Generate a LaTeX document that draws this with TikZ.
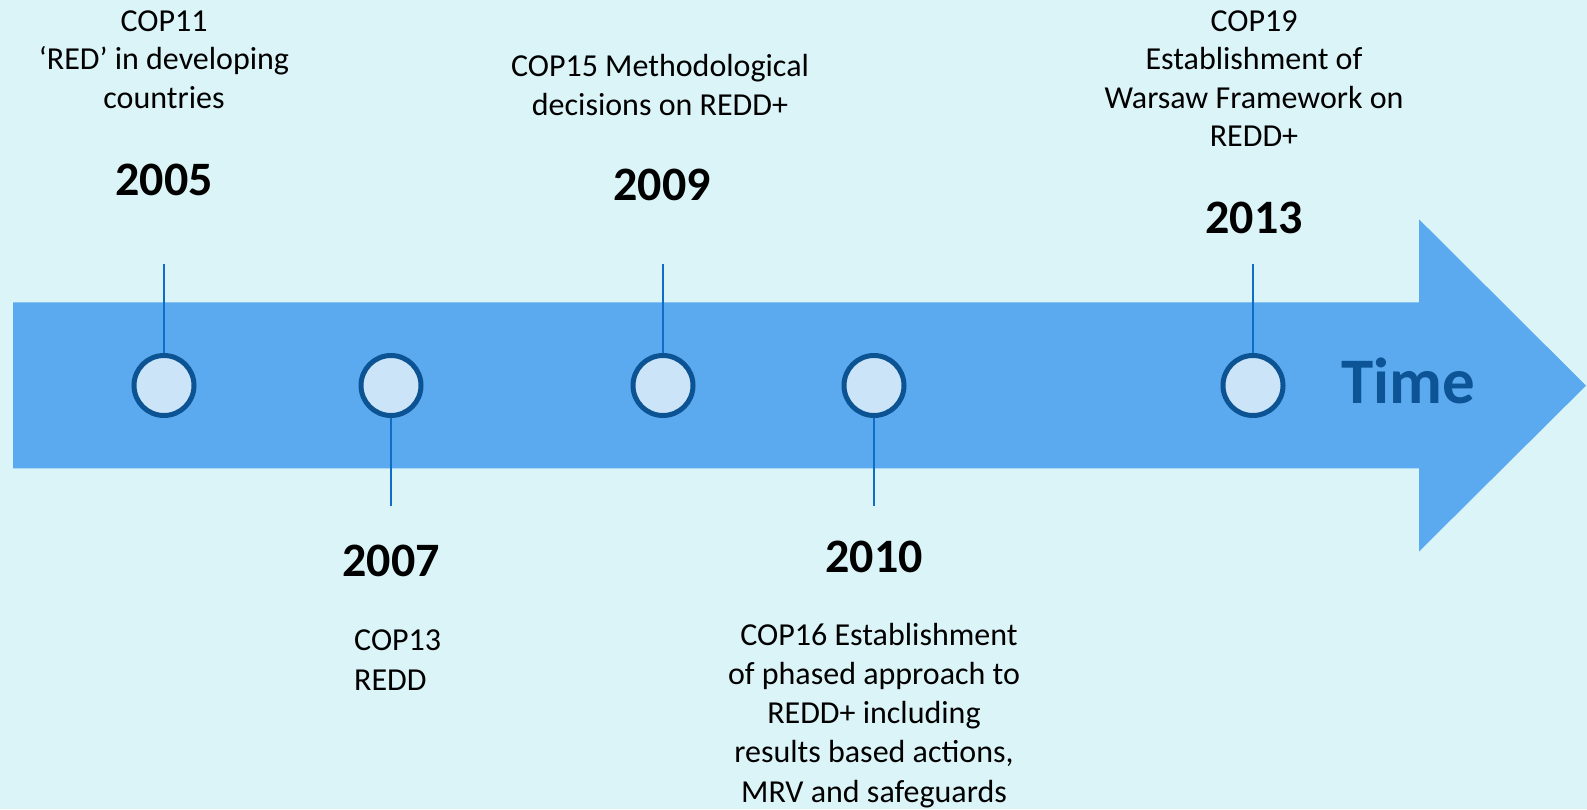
\documentclass[tikz,border=0pt]{standalone}
\usepackage{fontspec}
\setmainfont{Carlito}
\definecolor{bgc}{HTML}{DBF4F8}
\definecolor{arrowc}{HTML}{5BAAF0}
\definecolor{circfill}{HTML}{CCE4F8}
\definecolor{circline}{HTML}{0C5394}
\definecolor{stemc}{HTML}{0E6DC4}
\definecolor{timec}{HTML}{0D5496}
\tikzset{
  evt/.style={circle, draw=circline, fill=circfill, line width=5pt, minimum size=60pt, inner sep=0pt},
  stem/.style={draw=stemc, line width=2.2pt},
  desc/.style={anchor=base, inner sep=0pt, align=center, font=\fontsize{32}{38.5}\selectfont},
  yr/.style={anchor=base, inner sep=0pt, font=\fontsize{48}{56}\selectfont\bfseries},
}
\begin{document}
\begin{tikzpicture}[x=1pt,y=-1pt]
\fill[bgc] (0,0) rectangle (1587,809);
\useasboundingbox (0,0) rectangle (1587,809);
% arrow
\fill[arrowc] (13,302.3) -- (1419,302.3) -- (1419,219.3) -- (1586,385.6) -- (1419,551.5) -- (1419,468.3) -- (13,468.3) -- cycle;
% circles
\node[evt] (c1) at (164,385.5) {};
\node[evt] (c2) at (391,385.5) {};
\node[evt] (c3) at (663,385.5) {};
\node[evt] (c4) at (874,385.5) {};
\node[evt] (c5) at (1253,385.5) {};
% stems
\coordinate (s1) at (164,264);
\coordinate (s2) at (391,506);
\coordinate (s3) at (663,264);
\coordinate (s4) at (874,506);
\coordinate (s5) at (1253,264);
\draw[stem] (s1) -- (c1.north);
\draw[stem] (s2) -- (c2.south);
\draw[stem] (s3) -- (c3.north);
\draw[stem] (s4) -- (c4.south);
\draw[stem] (s5) -- (c5.north);
% texts (base anchor = baseline of the last line)
\node[desc] (d1) at (164,108) {COP11\\‘RED’ in developing\\countries};
\node[yr] (y1) at (164,195) {2005};
\node[desc, font=\fontsize{32}{39}\selectfont] (d3) at (660,115) {COP15 Methodological\\decisions on REDD+};
\node[yr] (y3) at (662,200) {2009};
\node[desc] (d5) at (1254,146.7) {COP19\\Establishment of\\Warsaw Framework on\\REDD+};
\node[yr] (y5) at (1254,233) {2013};
\node[yr] (y2) at (391,576) {2007};
\node[desc, anchor=base west, align=left, font=\fontsize{32}{40}\selectfont] (d2) at (354,690) {COP13\\REDD};
\node[yr] (y4) at (874,572) {2010};
\node[desc, font=\fontsize{32}{39.2}\selectfont] (d4) at (874,802) {\hspace*{10pt}COP16 Establishment\\of phased approach to\\REDD+ including\\results based actions,\\MRV and safeguards};
\node[anchor=base west, inner sep=0pt, text=timec, font=\fontsize{65}{70}\selectfont\bfseries] (time) at (1341,403.3) {Time};
\end{tikzpicture}
\end{document}
